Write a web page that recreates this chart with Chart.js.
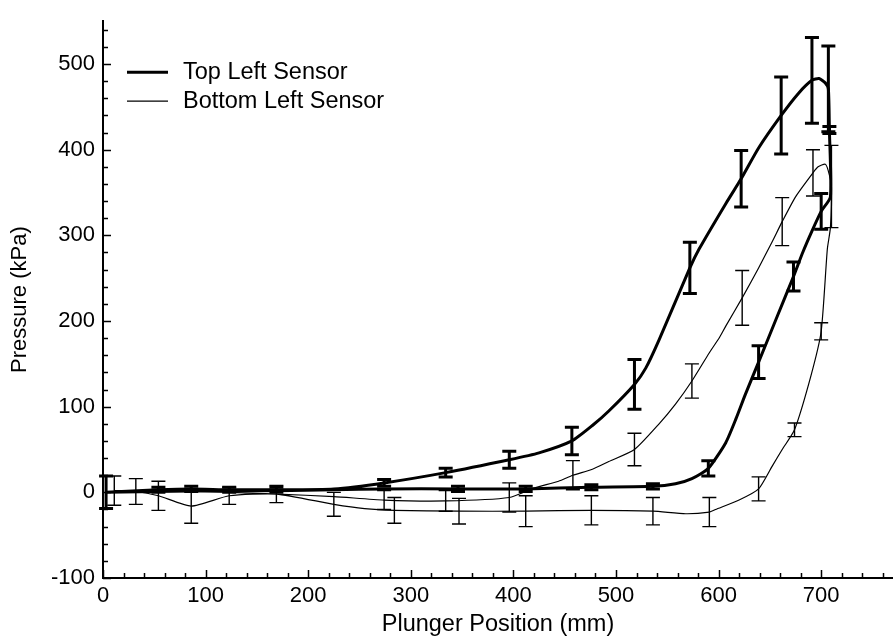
<!DOCTYPE html>
<html>
<head>
<meta charset="utf-8">
<script src="https://cdn.jsdelivr.net/npm/chart.js@4"></script>
<style>
  html, body { margin: 0; padding: 0; background: #fff; }
</style>
</head>
<body>
<canvas id="pressureChart" width="893" height="641"></canvas>
<script>
// Top Left Sensor: rising branch out to the tip, then the return branch back to 0
// x = plunger position (mm), y = pressure (kPa), err = +/- (0 means no bar)
const topLeftX = [3, 54, 86, 123, 169, 225, 274, 334, 396, 425, 457, 477, 493, 518, 529, 542, 572, 581, 607, 622, 639, 661, 678, 691, 698, 704, 707, 708,
                  709, 700, 691, 682, 673, 656, 639, 626, 617, 607, 590, 574, 558, 536, 476, 412, 346, 274, 225, 169, 100, 3];
const topLeftY = [0, 3, 4, 3, 3, 4, 11, 23, 38, 46, 60, 78, 95, 126, 145, 178, 262, 284, 337, 366, 402, 440, 466, 481, 483, 478, 471, 423,
                  345, 328, 305, 280, 252, 202, 152, 114, 86, 58, 28, 16, 10, 7, 6, 4, 4, 4, 3, 2, 2, 0];
const topLeftErr = [19, 3, 3, 3, 3, 0, 4, 5, 10, 0, 16, 0, 0, 29, 0, 0, 30, 0, 0, 33, 0, 45, 0, 50, 0, 0, 50, 4,
                    0, 21, 0, 0, 17, 0, 19, 0, 0, 0, 9, 0, 0, 3, 3, 3, 3, 0, 0, 0, 0, 0];

// Bottom Left Sensor: late-rising branch out to the tip, then the early branch back to 0
const bottomLeftX = [11, 32, 54, 86, 123, 169, 225, 255, 284, 347, 412, 476, 536, 568, 591, 597, 620, 639, 652, 662, 674, 690, 700, 706, 709, 710,
                     707, 704, 697, 692, 675, 662, 652, 639, 623, 607, 601, 591, 574, 558, 542, 518, 493, 477, 458, 444, 420, 396, 334, 274, 225, 170, 123, 86, 50, 11];
const bottomLeftY = [2, 1, -4, -16, -4, -2, -14, -19, -21, -22, -22, -21, -22, -25, -23, -20, -9, 4, 30, 50, 73, 136, 188, 284, 309, 357,
                     375, 383, 380, 373, 345, 316, 292, 262, 227, 194, 181, 163, 130, 103, 80, 50, 36, 27, 20, 13, 5, -6, -10, -9, -5, -2, 0, 1, 2, 2];
const bottomLeftErr = [17, 15, 17, 20, 10, 10, 14, 0, 15, 15, 18, 17, 16, 0, 17, 0, 0, 14, 0, 0, 8, 0, 10, 0, 0, 48,
                       0, 0, 0, 27, 0, 28, 0, 0, 32, 0, 0, 0, 20, 0, 0, 19, 0, 0, 17, 0, 0, 17, 12, 11, 0, 0, 0, 0, 0, 0];

const seriesNames = ['Top Left Sensor', 'Bottom Left Sensor'];

const FONT = '"Liberation Sans", Arial, sans-serif';

function toPoints(xs, ys, errs) {
    var pts = [];
    for (var i = 0; i < xs.length; i++) {
        pts.push({ x: xs[i], y: ys[i], err: errs[i] });
    }
    return pts;
}

// vertical error bars with caps, through the chart's own scales
const errorBars = {
    id: 'errorBars',
    afterDatasetsDraw(chart) {
        const ctx = chart.ctx;
        const xs = chart.scales.x, ys = chart.scales.y;
        chart.data.datasets.forEach(function(ds) {
            ctx.save();
            ctx.strokeStyle = ds.borderColor;
            ctx.lineWidth = ds.errorWidth;
            ds.data.forEach(function(p) {
                if (!p.err) return;
                const px = xs.getPixelForValue(p.x);
                const top = ys.getPixelForValue(p.y + p.err);
                const bot = ys.getPixelForValue(p.y - p.err);
                ctx.beginPath();
                ctx.moveTo(px, top); ctx.lineTo(px, bot);
                ctx.moveTo(px - 7, top); ctx.lineTo(px + 7, top);
                ctx.moveTo(px - 7, bot); ctx.lineTo(px + 7, bot);
                ctx.stroke();
            });
            ctx.restore();
        });
    }
};

// tick marks pointing into the plot, longer on the labelled ones
const innerTicks = {
    id: 'innerTicks',
    afterDraw(chart) {
        const ctx = chart.ctx, area = chart.chartArea;
        const sx = chart.scales.x, sy = chart.scales.y;
        ctx.save();
        ctx.strokeStyle = '#000';
        ctx.lineWidth = 1.5;
        ctx.beginPath();
        sx.ticks.forEach(function(t) {
            const px = Math.round(sx.getPixelForValue(t.value)) + 0.5;
            const len = t.value % 100 === 0 ? 8 : 5;
            ctx.moveTo(px, area.bottom); ctx.lineTo(px, area.bottom - len);
        });
        sy.ticks.forEach(function(t) {
            const py = Math.round(sy.getPixelForValue(t.value)) + 0.5;
            const len = t.value % 100 === 0 ? 8 : 5;
            ctx.moveTo(area.left, py); ctx.lineTo(area.left + len, py);
        });
        ctx.stroke();
        ctx.restore();
    }
};

// legend sits inside the plot, top left
const insideLegend = {
    id: 'insideLegend',
    afterDraw(chart) {
        const ctx = chart.ctx, area = chart.chartArea;
        const x0 = area.left + 24;
        let y = area.top + 51;
        ctx.save();
        ctx.font = '23.5px ' + FONT;
        ctx.textBaseline = 'middle';
        ctx.fillStyle = '#000';
        chart.data.datasets.forEach(function(ds) {
            ctx.strokeStyle = ds.borderColor;
            ctx.lineWidth = ds.borderWidth;
            ctx.beginPath();
            ctx.moveTo(x0, y); ctx.lineTo(x0 + 41, y);
            ctx.stroke();
            ctx.fillText(ds.label, x0 + 56, y);
            y += 29;
        });
        ctx.restore();
    }
};

new Chart(document.getElementById('pressureChart').getContext('2d'), {
    type: 'scatter',
    data: {
        datasets: [{
            label: seriesNames[0],
            data: toPoints(topLeftX, topLeftY, topLeftErr),
            showLine: true,
            borderColor: '#000',
            borderWidth: 3,
            errorWidth: 3,
            tension: 0.2,
            pointRadius: 0,
            pointHoverRadius: 0
        }, {
            label: seriesNames[1],
            data: toPoints(bottomLeftX, bottomLeftY, bottomLeftErr),
            showLine: true,
            borderColor: '#000',
            borderWidth: 1.2,
            errorWidth: 1.4,
            tension: 0.2,
            pointRadius: 0,
            pointHoverRadius: 0
        }]
    },
    options: {
        responsive: false,
        animation: false,
        events: [],
        layout: { padding: { top: 7, right: 0, left: 0, bottom: 0 } },
        plugins: { legend: { display: false }, tooltip: { enabled: false } },
        scales: {
            x: {
                type: 'linear',
                min: 0,
                max: 770,
                grid: { display: false, drawTicks: false },
                border: { display: true, color: '#000', width: 2 },
                ticks: {
                    stepSize: 20,
                    includeBounds: false,
                    autoSkip: false,
                    maxRotation: 0,
                    padding: 5,
                    color: '#000',
                    font: { family: FONT, size: 22 },
                    callback: function(v) { return v % 100 === 0 ? String(v) : ''; }
                },
                title: {
                    display: true,
                    text: 'Plunger Position (mm)',
                    color: '#000',
                    font: { family: FONT, size: 23.5 },
                    padding: { top: 0, bottom: 2 }
                },
                afterFit: function(scale) { scale.height = 63; }
            },
            y: {
                type: 'linear',
                min: -100,
                max: 550,
                grid: { display: false, drawTicks: false },
                border: { display: true, color: '#000', width: 2 },
                ticks: {
                    stepSize: 20,
                    includeBounds: false,
                    autoSkip: false,
                    padding: 8,
                    color: '#000',
                    font: { family: FONT, size: 22 },
                    callback: function(v) { return v % 100 === 0 ? String(v) : ''; }
                },
                title: {
                    display: true,
                    text: 'Pressure (kPa)',
                    color: '#000',
                    font: { family: FONT, size: 22 },
                    padding: { top: 7, bottom: 0 }
                },
                afterFit: function(scale) { scale.width = 103; }
            }
        }
    },
    plugins: [errorBars, innerTicks, insideLegend]
});
</script>
</body>
</html>
